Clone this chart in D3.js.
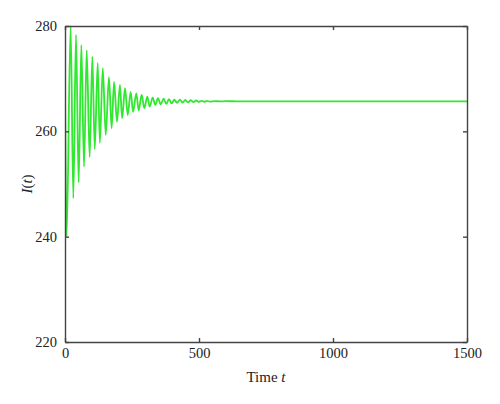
<!DOCTYPE html>
<head>
<meta charset="utf-8">
<style>
body{ margin:0; background:#fff; }
text{ font-family:"Liberation Serif","Times New Roman",serif; fill:#222; }
.axis path,.axis line{ stroke:#444; stroke-width:1.4; }
</style>
</head>
<body>
<svg width="500" height="404"></svg>
<script src="https://cdn.jsdelivr.net/npm/d3@7"></script>
<script type="text/javascript">

// extrema of I(t) (time, value)
var times  = [0, 6, 21, 31, 41, 51, 61, 71, 81, 92, 102, 111, 122, 130, 141, 152, 164, 174, 183, 194,
  205, 213, 224, 234, 245, 254, 266, 275, 286, 296, 307, 316, 327, 337, 347, 357, 368, 378, 388, 398,
  408, 418, 429, 439, 449, 459, 469, 479, 490, 500, 510, 520, 530, 540, 560, 580, 600, 640, 700, 1500];
var values = [268.2, 240.0, 280.0, 247.3, 278.3, 250.3, 276.4, 253.3, 275.4, 255.1, 274.2, 256.6, 273.0, 257.8, 272.0, 259.3, 270.3, 260.6, 269.4, 261.8,
  268.8, 262.5, 268.2, 263.1, 267.5, 263.7, 267.2, 264.0, 266.9, 264.4, 266.6, 264.7, 266.4, 265.0, 266.3, 265.1, 266.2, 265.2, 266.1, 265.3,
  266.0, 265.4, 266.0, 265.45, 265.95, 265.5, 265.9, 265.55, 265.85, 265.6, 265.8, 265.62, 265.78, 265.65, 265.75, 265.68, 265.72, 265.7, 265.7, 265.7];

var xTicks = [0, 500, 1000, 1500];
var yTicks = [220, 240, 260, 280];

var svg = d3.select("svg");
var mLeft = 65, mRight = 467, mTop = 26, mBottom = 342;

var x = d3.scaleLinear().domain([0, 1500]).range([mLeft, mRight]);
var y = d3.scaleLinear().domain([220, 280]).range([mBottom, mTop]);

var data = times.map(function(t, i){ return {t: t, v: values[i]}; });

svg.append("defs").append("clipPath").attr("id", "clip")
.append("rect").attr("x", mLeft).attr("y", mTop - 1).attr("width", mRight - mLeft).attr("height", mBottom - mTop + 1);

var line = d3.line()
.x(function(d){ return x(d.t); })
.y(function(d){ return y(d.v); })
.curve(d3.curveMonotoneX);

svg.append("path")
.datum(data)
.attr("clip-path", "url(#clip)")
.attr("fill", "none")
.attr("stroke", "#2fe82f")
.attr("stroke-width", 1.8)
.attr("d", line);

// axes with inward ticks on all four sides
svg.append("g").attr("class", "axis")
.attr("transform", "translate(0," + mBottom + ")")
.call(d3.axisBottom(x).tickValues(xTicks).tickSizeInner(-4).tickSizeOuter(0).tickPadding(6).tickFormat(d3.format("d")))
.selectAll("text").style("font-size", "14.5px");

svg.append("g").attr("class", "axis")
.attr("transform", "translate(0," + mTop + ")")
.call(d3.axisTop(x).tickValues(xTicks).tickSizeInner(-4).tickSizeOuter(0).tickFormat(""));

svg.append("g").attr("class", "axis")
.attr("transform", "translate(" + mLeft + ",0)")
.call(d3.axisLeft(y).tickValues(yTicks).tickSizeInner(-4).tickSizeOuter(0).tickPadding(8))
.selectAll("text").style("font-size", "14.5px");

svg.append("g").attr("class", "axis")
.attr("transform", "translate(" + mRight + ",0)")
.call(d3.axisRight(y).tickValues(yTicks).tickSizeInner(-4).tickSizeOuter(0).tickFormat(""));

// axis titles
var xl = svg.append("text")
.attr("x", (mLeft + mRight) / 2)
.attr("y", 382)
.attr("text-anchor", "middle")
.style("font-size", "15px");
xl.append("tspan").text("Time ");
xl.append("tspan").style("font-style", "italic").text("t");

var yl = svg.append("text")
.attr("transform", "translate(32," + ((mTop + mBottom) / 2) + ") rotate(-90)")
.attr("text-anchor", "middle")
.style("font-size", "15px");
yl.append("tspan").style("font-style", "italic").text("I");
yl.append("tspan").text("(");
yl.append("tspan").style("font-style", "italic").text("t");
yl.append("tspan").text(")");

</script>
</body>
